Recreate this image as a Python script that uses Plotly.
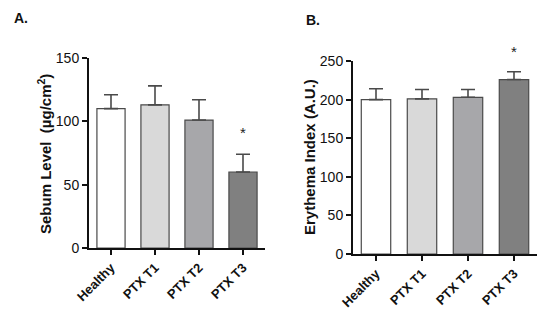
import plotly.graph_objects as go

categories = ["Healthy", "PTX T1", "PTX T2", "PTX T3"]
sebum_mean = [110, 113, 101, 60]
sebum_err = [11, 15, 16, 14]
erythema_mean = [200, 201, 203, 226]
erythema_err = [14, 12, 10, 10]
bar_colors = ["#ffffff", "#d9d9d9", "#a7a7aa", "#808080"]
sig_index = 3

FONT = "Liberation Sans, Arial, sans-serif"
edge = "#4a4a4a"

# page body has an 8px margin; figure sized to fit the window
OFF = 8
W, H = 550 - OFF, 320 - OFF


def px(x):
    return (x - OFF) / W


def py(y):
    return 1 - (y - OFF) / H


fig = go.Figure()
fig.add_trace(go.Bar(
    x=categories, y=sebum_mean, xaxis="x", yaxis="y",
    marker=dict(color=bar_colors, line=dict(color=edge, width=1.2)),
    error_y=dict(type="data", array=sebum_err, arrayminus=[0]*4, symmetric=False,
                 color=edge, thickness=1.6, width=7),
    width=0.64, showlegend=False))
fig.add_trace(go.Bar(
    x=categories, y=erythema_mean, xaxis="x2", yaxis="y2",
    marker=dict(color=bar_colors, line=dict(color=edge, width=1.2)),
    error_y=dict(type="data", array=erythema_err, arrayminus=[0]*4, symmetric=False,
                 color=edge, thickness=1.6, width=7),
    width=0.64, showlegend=False))

axis_common = dict(showline=True, linecolor="#111", linewidth=2, ticks="outside",
                   ticklen=5, tickwidth=1.5, tickcolor="#111", showgrid=False, zeroline=False,
                   automargin=False,
                   tickfont=dict(family=FONT, size=14, color="#111"))

fig.update_layout(
    width=W, height=H, margin=dict(l=0, r=0, t=0, b=0),
    plot_bgcolor="white", paper_bgcolor="white",
    font=dict(family=FONT, color="#111"),
    xaxis=dict(domain=[px(89), px(265)], anchor="y", range=[-0.5, 3.5], tickangle=-45,
               **axis_common),
    yaxis=dict(domain=[py(248), py(58)], anchor="x", range=[0, 150], tickvals=[0, 50, 100, 150],
               **axis_common),
    xaxis2=dict(domain=[px(353), px(537)], anchor="y2", range=[-0.5, 3.5], tickangle=-45,
                **axis_common),
    yaxis2=dict(domain=[py(254), py(61)], anchor="x2", range=[0, 250], tickvals=[0, 50, 100, 150, 200, 250],
                **axis_common),
)

# bold tick labels
fig.update_xaxes(tickprefix="<b>", ticksuffix="</b>", tickfont_size=13)
fig.update_yaxes(tickprefix="<b>", ticksuffix="</b>")

# axis titles
fig.add_annotation(x=px(44), y=py(154), xref="paper", yref="paper", textangle=-90,
                   xanchor="center", yanchor="middle",
                   text="<b>Sebum Level  (µg/cm<sup>2</sup>)</b>", showarrow=False,
                   font=dict(family=FONT, size=15, color="#111"))
fig.add_annotation(x=px(309), y=py(157), xref="paper", yref="paper", textangle=-90,
                   xanchor="center", yanchor="middle",
                   text="<b>Erythema Index (A.U.)</b>", showarrow=False,
                   font=dict(family=FONT, size=15, color="#111"))

fig.add_annotation(x=categories[sig_index], y=sebum_mean[sig_index] + sebum_err[sig_index],
                   xref="x", yref="y", text="*", showarrow=False, yshift=22,
                   font=dict(family=FONT, size=15, color="#222"))
fig.add_annotation(x=categories[sig_index], y=erythema_mean[sig_index] + erythema_err[sig_index],
                   xref="x2", yref="y2", text="*", showarrow=False, yshift=20,
                   font=dict(family=FONT, size=15, color="#222"))

fig.add_annotation(x=px(12), y=py(18), xref="paper", yref="paper", xanchor="left", yanchor="middle",
                   text="<b>A.</b>", showarrow=False, font=dict(family=FONT, size=14, color="#111"))
fig.add_annotation(x=px(304), y=py(20), xref="paper", yref="paper", xanchor="left", yanchor="middle",
                   text="<b>B.</b>", showarrow=False, font=dict(family=FONT, size=14, color="#111"))

fig.write_html("out.html")
